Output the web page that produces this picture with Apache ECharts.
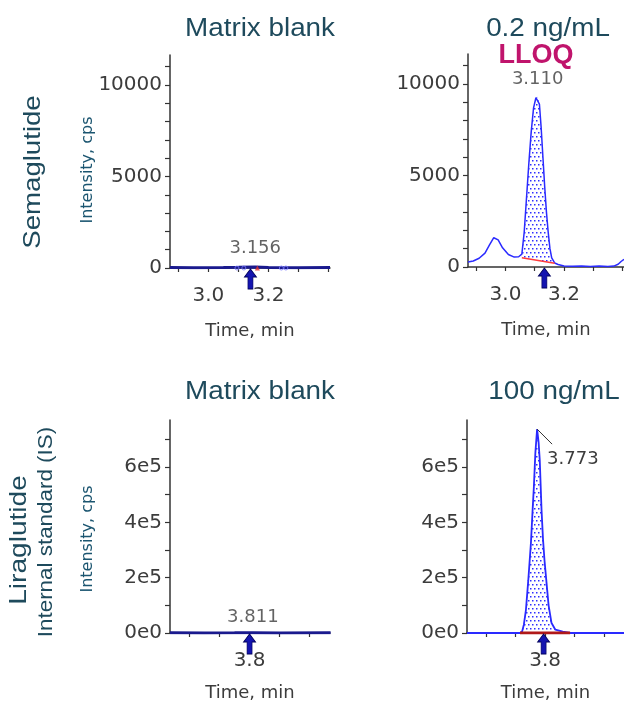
<!DOCTYPE html>
<html><head><meta charset="utf-8">
<script src="https://cdn.jsdelivr.net/npm/echarts@6/dist/echarts.min.js"></script>
<style>html,body{margin:0;padding:0;background:#fff}#c{width:624px;height:704px}</style>
</head><body><div id="c"></div>
<script>
// ---------- data ----------
const semaBlankTime = [2.872, 2.95, 3.05, 3.10, 3.156, 3.20, 3.30, 3.405];
const semaBlankInt  = [30, 20, 30, 40, 60, 30, 20, 30];
const semaBlankMarkTime = [3.095, 3.118, 3.243, 3.258];

const semaLloqTime = [2.872, 2.89, 2.91, 2.93, 2.945, 2.96, 2.975, 2.99, 3.01, 3.03, 3.045, 3.056, 3.064, 3.072, 3.080, 3.088, 3.096, 3.104, 3.110, 3.116, 3.122, 3.128, 3.134, 3.140, 3.146, 3.152, 3.158, 3.168, 3.18, 3.20, 3.23, 3.26, 3.29, 3.32, 3.35, 3.37, 3.385, 3.395, 3.405];
const semaLloqInt  = [270, 330, 480, 760, 1200, 1600, 1480, 1050, 680, 540, 560, 700, 1900, 3800, 5700, 7400, 8700, 9250, 9300, 8900, 7600, 6000, 4400, 3000, 1900, 1000, 500, 220, 140, 60, 40, 60, 30, 50, 30, 50, 150, 300, 420];
const semaLloqBaseTime = [3.056, 3.168];
const semaLloqBaseInt  = [500, 200];

const liraBlankTime = [3.535, 3.65, 3.75, 3.811, 3.90, 4.07];
const liraBlankInt  = [500, 300, 600, 900, 400, 500];

const liraStdTime = [3.535, 3.60, 3.65, 3.70, 3.715, 3.722, 3.728, 3.735, 3.743, 3.752, 3.758, 3.762, 3.767, 3.773, 3.778, 3.782, 3.788, 3.793, 3.798, 3.805, 3.812, 3.822, 3.835, 3.86, 3.885, 3.95, 4.07];
const liraStdInt  = [0, 0, 0, 0, 0, 5000, 30000, 83000, 190000, 325000, 450000, 528000, 650000, 737000, 690000, 625000, 445000, 340000, 264000, 181000, 100000, 36000, 12000, 5000, 0, 0, 0];
const liraStdBaseTime = [3.715, 3.885];
const liraStdBaseInt  = [0, 0];

const peakTimes  = [3.156, 3.110, 3.811, 3.773];
const peakInts   = [0, 9300, 0, 737000];
const peakLabels = ['3.156', '3.110', '3.811', '3.773'];
const arrowTimes = [3.140, 3.133, 3.800, 3.795];

const semaXTicks  = [2.9, 3.0, 3.1, 3.2, 3.3, 3.4];
const semaXLabels = [3.0, 3.2];
const semaYTicks  = [0, 1000, 2000, 3000, 4000, 5000, 6000, 7000, 8000, 9000, 10000, 11000];
const semaYLabels = [0, 5000, 10000];
const liraXTicks  = [3.6, 3.7, 3.8, 3.9, 4.0];
const liraXLabels = [3.8];
const liraYTicks  = [0, 100000, 200000, 300000, 400000, 500000, 600000, 700000];
const liraYLabels = [0, 200000, 400000, 600000];

const panelTitles = ['Matrix blank', '0.2 ng/mL', 'Matrix blank', '100 ng/mL'];

// ---------- helpers ----------
const zip = (a, b) => a.map((v, i) => [v, b[i]]);
const TICKFONT = 'DejaVu Sans';
const AX = '#333333';
const LBL = '#3c3c3c';

const pc = document.createElement('canvas');
pc.width = 4; pc.height = 8;
const g = pc.getContext('2d');
g.fillStyle = '#2f2fff';
g.fillRect(0, 0, 1.5, 1.5);
g.fillRect(2, 4, 1.5, 1.5);
const dotPattern = { image: pc, repeat: 'repeat' };

const ARROW = 'path://M6,0 L12,8 L8.5,8 L8.5,20 L3.5,20 L3.5,8 L0,8 Z';

function xAxisDef(idx, min, max, ticks, labels) {
  return {
    type: 'value', gridIndex: idx, min: min, max: max,
    axisLine: { show: true, onZero: false, lineStyle: { color: AX, width: 1.5 } },
    axisTick: { show: true, length: 4, customValues: ticks, lineStyle: { color: AX, width: 1.2 } },
    axisLabel: { customValues: labels, formatter: v => v.toFixed(1), fontSize: 20, color: LBL, fontFamily: TICKFONT, margin: 18 },
    splitLine: { show: false },
    name: 'Time, min', nameLocation: 'middle', nameGap: idx < 2 ? 54 : 51,
    nameTextStyle: { fontSize: 18, color: LBL, fontFamily: TICKFONT }
  };
}
function yAxisDef(idx, max, ticks, labels, fmt) {
  return {
    type: 'value', gridIndex: idx, min: 0, max: max,
    axisLine: { show: true, onZero: false, lineStyle: { color: AX, width: 1.5 } },
    axisTick: { show: true, length: 5, customValues: ticks, lineStyle: { color: AX, width: 1.2 } },
    axisLabel: { customValues: labels, formatter: fmt, fontSize: 20, color: LBL, fontFamily: TICKFONT, margin: 8 },
    splitLine: { show: false }
  };
}
const liraFmt = v => v === 0 ? '0e0' : (v / 100000) + 'e5';

function fillSeries(idx, times, ints, bt, bi) {
  return {
    type: 'custom', xAxisIndex: idx, yAxisIndex: idx, z: 1, silent: true,
    data: [[bt[0], bi[0]]],
    renderItem: function (params, api) {
      const pts = [];
      for (let i = 0; i < times.length; i++) {
        if (times[i] >= bt[0] - 1e-9 && times[i] <= bt[1] + 1e-9) pts.push(api.coord([times[i], ints[i]]));
      }
      pts.push(api.coord([bt[1], bi[1]]));
      pts.push(api.coord([bt[0], bi[0]]));
      return { type: 'polygon', shape: { points: pts }, style: { fill: dotPattern, stroke: null } };
    }
  };
}
function arrowSeries(idx, t) {
  return {
    type: 'scatter', xAxisIndex: idx, yAxisIndex: idx, z: 6, clip: false, silent: true,
    symbol: ARROW, symbolSize: [12, 20], symbolOffset: [0, 11], symbolKeepAspect: false,
    itemStyle: { color: '#1414b0', borderColor: '#00005a', borderWidth: 0.8, opacity: 1 },
    data: [[t, 0]]
  };
}
function labelSeries(idx, t, v, text, dist) {
  return {
    type: 'scatter', xAxisIndex: idx, yAxisIndex: idx, z: 7, clip: false, silent: true,
    symbol: 'circle', symbolSize: 1, itemStyle: { color: 'rgba(0,0,0,0)' },
    label: { show: true, position: 'top', distance: dist, formatter: text, fontSize: 18, color: LBL, fontFamily: TICKFONT },
    data: [[t, v]]
  };
}

const titleFont = '26px "Liberation Sans"';
const sideFont = '24px "Liberation Sans"';
const TC = '#1e4a5c';
function txt(text, x, y, font, fill, extra) {
  return Object.assign({ type: 'text', x: x, y: y, style: { text: text, font: font, fill: fill, align: 'center', verticalAlign: 'middle' } }, extra || {});
}
const ROT = Math.PI / 2;
const graphics = [
  txt(panelTitles[0], 260, 29, titleFont, TC, { scaleX: 1.07 }),
  txt(panelTitles[1], 548, 29, titleFont, TC, { scaleX: 1.07 }),
  txt('LLOQ', 536, 56, 'bold 27px "Liberation Sans"', '#c0146c'),
  txt(panelTitles[2], 260, 392, titleFont, TC, { scaleX: 1.07 }),
  txt(panelTitles[3], 554, 392, titleFont, TC, { scaleX: 1.07 }),
  txt('Semaglutide', 33, 172, sideFont, TC, { rotation: ROT, scaleX: 1.15 }),
  txt('Liraglutide', 19, 540, sideFont, TC, { rotation: ROT, scaleX: 1.17 }),
  txt('Internal standard (IS)', 46, 532, '20px "Liberation Sans"', TC, { rotation: ROT, scaleX: 1.12 }),
  txt('Intensity, cps', 88, 170, '16px "DejaVu Sans"', '#1b5570', { rotation: ROT }),
  txt('Intensity, cps', 88, 539, '16px "DejaVu Sans"', '#1b5570', { rotation: ROT })
];

const option = {
  animation: false,
  backgroundColor: '#ffffff',
  grid: [
    { left: 170, top: 55, width: 160, height: 213 },
    { left: 468, top: 54, width: 160, height: 213 },
    { left: 170, top: 420, width: 160, height: 213 },
    { left: 467, top: 420, width: 160, height: 213 }
  ],
  xAxis: [
    xAxisDef(0, 2.872, 3.405, semaXTicks, semaXLabels),
    xAxisDef(1, 2.872, 3.405, semaXTicks, semaXLabels),
    xAxisDef(2, 3.535, 4.068, liraXTicks, liraXLabels),
    xAxisDef(3, 3.535, 4.068, liraXTicks, liraXLabels)
  ],
  yAxis: [
    yAxisDef(0, 11640, semaYTicks, semaYLabels, v => String(v)),
    yAxisDef(1, 11640, semaYTicks, semaYLabels, v => String(v)),
    yAxisDef(2, 770000, liraYTicks, liraYLabels, liraFmt),
    yAxisDef(3, 770000, liraYTicks, liraYLabels, liraFmt)
  ],
  graphic: graphics,
  series: [
    // panel 0: semaglutide blank
    { type: 'line', xAxisIndex: 0, yAxisIndex: 0, z: 3, showSymbol: false, silent: true,
      lineStyle: { color: '#1a1a8e', width: 3 }, data: zip(semaBlankTime, semaBlankInt) },
    { type: 'scatter', xAxisIndex: 0, yAxisIndex: 0, z: 4, silent: true, symbol: 'circle', symbolSize: 4,
      itemStyle: { color: 'rgba(0,0,0,0)', borderColor: '#7a7aff', borderWidth: 1 }, data: semaBlankMarkTime.map(t => [t, 0]) },
    { type: 'scatter', xAxisIndex: 0, yAxisIndex: 0, z: 4, silent: true, symbol: 'triangle', symbolSize: 5,
      itemStyle: { color: '#e03030' }, data: [[peakTimes[0] + 0.007, 0]] },
    arrowSeries(0, arrowTimes[0]),
    labelSeries(0, peakTimes[0], peakInts[0], peakLabels[0], 10),
    // panel 1: semaglutide LLOQ
    fillSeries(1, semaLloqTime, semaLloqInt, semaLloqBaseTime, semaLloqBaseInt),
    { type: 'line', xAxisIndex: 1, yAxisIndex: 1, z: 3, showSymbol: false, silent: true,
      lineStyle: { color: '#2a2aff', width: 1.5 }, data: zip(semaLloqTime, semaLloqInt) },
    { type: 'line', xAxisIndex: 1, yAxisIndex: 1, z: 4, showSymbol: false, silent: true,
      lineStyle: { color: '#ff3b3b', width: 1.5 }, data: zip(semaLloqBaseTime, semaLloqBaseInt) },
    arrowSeries(1, arrowTimes[1]),
    labelSeries(1, peakTimes[1], peakInts[1], peakLabels[1], 8),
    // panel 2: liraglutide blank
    { type: 'line', xAxisIndex: 2, yAxisIndex: 2, z: 3, showSymbol: false, silent: true,
      lineStyle: { color: '#1a1a8e', width: 3 }, data: zip(liraBlankTime, liraBlankInt) },
    arrowSeries(2, arrowTimes[2]),
    labelSeries(2, peakTimes[2], peakInts[2], peakLabels[2], 6),
    // panel 3: liraglutide 100 ng/mL
    fillSeries(3, liraStdTime, liraStdInt, liraStdBaseTime, liraStdBaseInt),
    { type: 'line', xAxisIndex: 3, yAxisIndex: 3, z: 3, showSymbol: false, silent: true,
      lineStyle: { color: '#2a2aff', width: 1.8 }, data: zip(liraStdTime, liraStdInt) },
    { type: 'line', xAxisIndex: 3, yAxisIndex: 3, z: 4, showSymbol: false, silent: true,
      lineStyle: { color: '#b01818', width: 3 }, data: zip(liraStdBaseTime, liraStdBaseInt) },
    arrowSeries(3, arrowTimes[3]),
    { type: 'custom', xAxisIndex: 3, yAxisIndex: 3, z: 7, clip: false, silent: true,
      data: [[peakTimes[3], peakInts[3]]],
      renderItem: function (params, api) {
        const p = api.coord([api.value(0), api.value(1)]);
        return { type: 'group', children: [
          { type: 'line', shape: { x1: p[0], y1: p[1], x2: p[0] + 15, y2: p[1] + 15 }, style: { stroke: '#333', lineWidth: 1 } },
          { type: 'text', x: p[0] + 10, y: p[1] + 30, style: { text: peakLabels[3], font: '18px "DejaVu Sans"', fill: LBL, align: 'left', verticalAlign: 'middle' } }
        ] };
      }
    }
  ]
};

const chart = echarts.init(document.getElementById('c'), null, { renderer: 'canvas' });
chart.setOption(option);
</script>
</body></html>
